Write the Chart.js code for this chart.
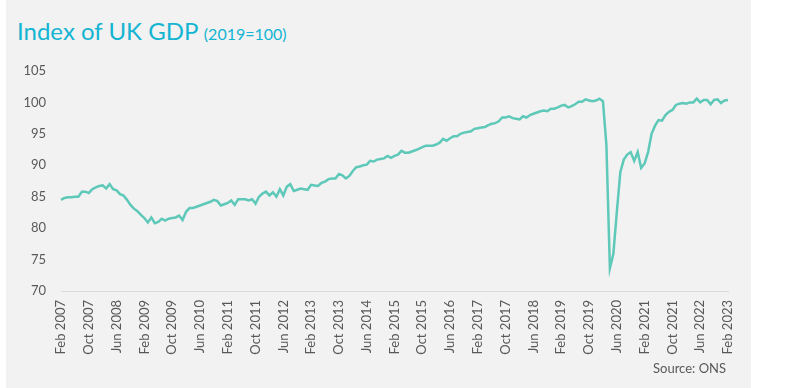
<!DOCTYPE html>
<html lang="en">
<head>
    <meta charset="UTF-8">
    <title>Index of UK GDP</title>
    <script src="https://cdn.jsdelivr.net/npm/chart.js@4"></script>
    <style>
        body {
            margin: 0;
            background: #fff;
            font-family: Lato, sans-serif;
        }

        .panel {
            position: absolute;
            left: 6px;
            top: 0;
            width: 745px;
            height: 388px;
            background: #f2f2f2;
        }

        h1 {
            position: absolute;
            left: 17px;
            top: 16px;
            margin: 0;
            font-size: 24px;
            font-weight: normal;
            color: #14b4d3;
            white-space: nowrap;
        }

        h1 small {
            font-size: 16px;
        }

        .source {
            position: absolute;
            left: 653px;
            top: 360px;
            font-size: 13px;
            color: #595959;
        }

        canvas {
            position: absolute;
            left: 0;
            top: 0;
        }
    </style>
</head>
<body>

    <div class="panel"></div>
    <h1>Index of UK GDP <small>(2019=100)</small></h1>
    <canvas id="gdpChart" width="800" height="388"></canvas>
    <div class="source">Source: ONS</div>

    <script>
        // monthly index, 2019 = 100 (series starts Feb 2007)
        const monthNames = ['Jan', 'Feb', 'Mar', 'Apr', 'May', 'Jun', 'Jul', 'Aug', 'Sep', 'Oct', 'Nov', 'Dec'];
        const startYear = 2007;
        const startMonth = 1; // Feb

        const gdp2007 = [84.5, 84.8, 84.9, 84.9, 85.0, 85.0, 85.8, 85.8, 85.6, 86.2, 86.5];
        const gdp2008 = [86.7, 86.8, 86.3, 87.0, 86.2, 86.0, 85.4, 85.2, 84.5, 83.7, 83.1, 82.7];
        const gdp2009 = [82.1, 81.6, 80.9, 81.7, 80.8, 81.0, 81.5, 81.2, 81.5, 81.6, 81.7, 82.0];
        const gdp2010 = [81.3, 82.6, 83.2, 83.2, 83.4, 83.6, 83.8, 84.0, 84.2, 84.5, 84.3, 83.6];
        const gdp2011 = [83.8, 84.0, 84.4, 83.7, 84.6, 84.6, 84.6, 84.4, 84.6, 83.9, 85.0, 85.5];
        const gdp2012 = [85.8, 85.2, 85.7, 85.0, 86.2, 85.2, 86.6, 87.0, 85.9, 86.1, 86.3, 86.2];
        const gdp2013 = [86.1, 86.9, 86.8, 86.7, 87.2, 87.4, 87.8, 87.9, 87.9, 88.6, 88.4, 87.9];
        const gdp2014 = [88.3, 89.1, 89.7, 89.8, 90.0, 90.1, 90.7, 90.6, 90.9, 91.0, 91.1, 91.5];
        const gdp2015 = [91.2, 91.5, 91.7, 92.3, 92.0, 92.0, 92.2, 92.4, 92.6, 92.9, 93.1, 93.1];
        const gdp2016 = [93.1, 93.3, 93.6, 94.2, 93.9, 94.3, 94.6, 94.6, 95.0, 95.2, 95.3, 95.4];
        const gdp2017 = [95.8, 95.9, 96.0, 96.1, 96.4, 96.6, 96.7, 97.0, 97.6, 97.6, 97.8, 97.5];
        const gdp2018 = [97.4, 97.3, 97.8, 97.6, 98.0, 98.2, 98.4, 98.6, 98.7, 98.6, 99.0, 99.0];
        const gdp2019 = [99.2, 99.5, 99.6, 99.2, 99.4, 99.7, 100.1, 100.1, 100.5, 100.3, 100.2, 100.3];
        const gdp2020 = [100.6, 100.2, 93.2, 73.6, 75.9, 82.6, 88.9, 90.9, 91.7, 92.1, 90.7, 92.1];
        const gdp2021 = [89.6, 90.3, 92.1, 95.0, 96.3, 97.2, 97.1, 98.0, 98.5, 98.8, 99.6, 99.8];
        const gdp2022 = [99.9, 99.8, 100.0, 100.0, 100.6, 100.0, 100.4, 100.4, 99.7, 100.4, 100.5, 99.9];
        const gdp2023 = [100.3, 100.4];

        const gdpValues = [].concat(gdp2007, gdp2008, gdp2009, gdp2010, gdp2011, gdp2012, gdp2013,
            gdp2014, gdp2015, gdp2016, gdp2017, gdp2018, gdp2019, gdp2020, gdp2021, gdp2022, gdp2023);

        const monthLabels = gdpValues.map((v, i) => {
            const m = startMonth + i;
            return monthNames[m % 12] + ' ' + (startYear + Math.floor(m / 12));
        });

        const labelEvery = 8; // Feb 2007, Oct 2007, Jun 2008 ...
        const yMin = 70, yMax = 105, yStep = 5;

        Chart.defaults.font.family = 'Lato, sans-serif';
        Chart.defaults.font.size = 13;
        Chart.defaults.color = '#595959';

        const ctx = document.getElementById('gdpChart').getContext('2d');

        new Chart(ctx, {
            type: 'line',
            data: {
                labels: monthLabels,
                datasets: [{
                    label: 'Index of UK GDP',
                    data: gdpValues,
                    borderColor: '#5ec8b9',
                    borderWidth: 2.5,
                    pointRadius: 0,
                    tension: 0,
                    fill: false
                }]
            },
            options: {
                responsive: false,
                animation: false,
                layout: {
                    padding: { top: 71, right: 72, bottom: 0, left: 0 }
                },
                plugins: {
                    legend: { display: false },
                    tooltip: { enabled: false }
                },
                scales: {
                    x: {
                        grid: { display: false, drawTicks: false },
                        border: { display: true, color: '#d9d9d9', width: 1 },
                        ticks: {
                            autoSkip: false,
                            minRotation: 90,
                            maxRotation: 90,
                            padding: 9,
                            callback: function (val, idx) {
                                return idx % labelEvery === 0 ? this.getLabelForValue(val) : '';
                            }
                        },
                        afterFit: function (scale) {
                            scale.height = 97;
                        }
                    },
                    y: {
                        min: yMin,
                        max: yMax,
                        grid: { display: false, drawTicks: false },
                        border: { display: false },
                        ticks: {
                            stepSize: yStep,
                            padding: 15
                        },
                        afterFit: function (scale) {
                            scale.width = 61;
                        }
                    }
                }
            }
        });
    </script>

</body>
</html>
